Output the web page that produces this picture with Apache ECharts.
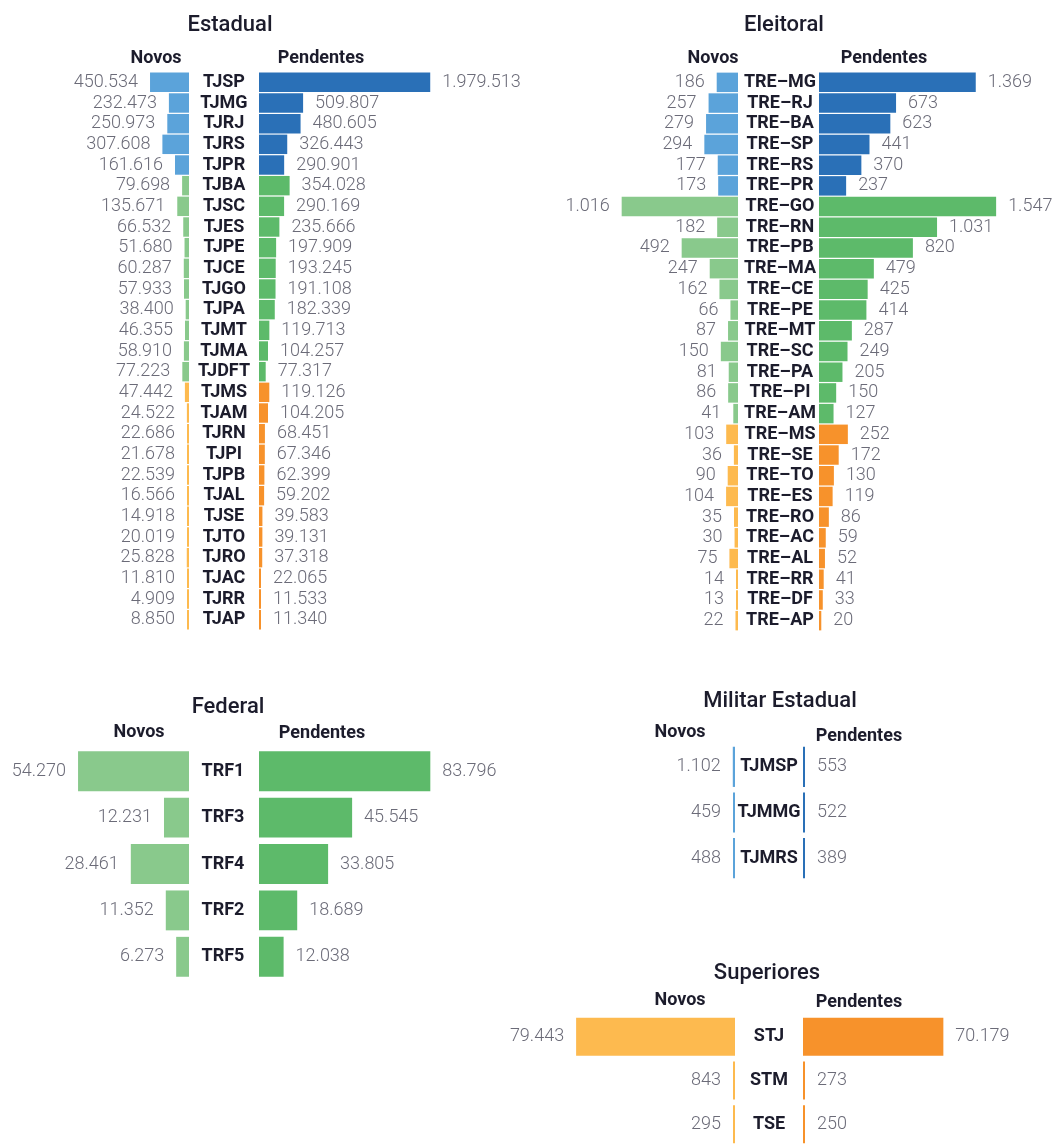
<!DOCTYPE html>
<html>
<head>
<meta charset="utf-8">
<script src="https://cdn.jsdelivr.net/npm/echarts@6/dist/echarts.min.js"></script>
<style>
  html, body { margin: 0; padding: 0; background: #fff; }
  #chart { width: 1054px; height: 1146px; }
</style>
</head>
<body>
<div id="chart"></div>
<script>
// Estadual
const estCategories = ['TJSP', 'TJMG', 'TJRJ', 'TJRS', 'TJPR', 'TJBA', 'TJSC', 'TJES', 'TJPE', 'TJCE', 'TJGO', 'TJPA', 'TJMT', 'TJMA', 'TJDFT', 'TJMS', 'TJAM', 'TJRN', 'TJPI', 'TJPB', 'TJAL', 'TJSE', 'TJTO', 'TJRO', 'TJAC', 'TJRR', 'TJAP']
const estNovos = [450534, 232473, 250973, 307608, 161616, 79698, 135671, 66532, 51680, 60287, 57933, 38400, 46355, 58910, 77223, 47442, 24522, 22686, 21678, 22539, 16566, 14918, 20019, 25828, 11810, 4909, 8850]
const estPendentes = [1979513, 509807, 480605, 326443, 290901, 354028, 290169, 235666, 197909, 193245, 191108, 182339, 119713, 104257, 77317, 119126, 104205, 68451, 67346, 62399, 59202, 39583, 39131, 37318, 22065, 11533, 11340]
const estPorte = ['G', 'G', 'G', 'G', 'G', 'M', 'M', 'M', 'M', 'M', 'M', 'M', 'M', 'M', 'M', 'P', 'P', 'P', 'P', 'P', 'P', 'P', 'P', 'P', 'P', 'P', 'P']

// Eleitoral
const eleCategories = ['TRE–MG', 'TRE–RJ', 'TRE–BA', 'TRE–SP', 'TRE–RS', 'TRE–PR', 'TRE–GO', 'TRE–RN', 'TRE–PB', 'TRE–MA', 'TRE–CE', 'TRE–PE', 'TRE–MT', 'TRE–SC', 'TRE–PA', 'TRE–PI', 'TRE–AM', 'TRE–MS', 'TRE–SE', 'TRE–TO', 'TRE–ES', 'TRE–RO', 'TRE–AC', 'TRE–AL', 'TRE–RR', 'TRE–DF', 'TRE–AP']
const eleNovos = [186, 257, 279, 294, 177, 173, 1016, 182, 492, 247, 162, 66, 87, 150, 81, 86, 41, 103, 36, 90, 104, 35, 30, 75, 14, 13, 22]
const elePendentes = [1369, 673, 623, 441, 370, 237, 1547, 1031, 820, 479, 425, 414, 287, 249, 205, 150, 127, 252, 172, 130, 119, 86, 59, 52, 41, 33, 20]
const elePorte = ['G', 'G', 'G', 'G', 'G', 'G', 'M', 'M', 'M', 'M', 'M', 'M', 'M', 'M', 'M', 'M', 'M', 'P', 'P', 'P', 'P', 'P', 'P', 'P', 'P', 'P', 'P']

// Federal
const fedCategories = ['TRF1', 'TRF3', 'TRF4', 'TRF2', 'TRF5']
const fedNovos = [54270, 12231, 28461, 11352, 6273]
const fedPendentes = [83796, 45545, 33805, 18689, 12038]

// Militar Estadual
const milCategories = ['TJMSP', 'TJMMG', 'TJMRS']
const milNovos = [1102, 459, 488]
const milPendentes = [553, 522, 389]

// Superiores
const supCategories = ['STJ', 'STM', 'TSE']
const supNovos = [79443, 843, 295]
const supPendentes = [70179, 273, 250]

const colors = {
  G: ['#5ba3da', '#2a70b7'],
  M: ['#89c98c', '#5dba6a'],
  P: ['#fdba4f', '#f7922b'],
}
const FONT = 'Roboto, "Noto Sans", sans-serif'
const DARK = '#1c1c2c'

const panels = [
  { title: 'Estadual', cats: estCategories, novos: estNovos, pend: estPendentes, porte: estPorte,
    max: 2000000, top: 72, height: 558, leftX: 16, rightX: 259, width: 173, margin: 35, gap: '6%',
    head: { t: [230, 25], n: [156, 58], p: [321, 58] } },
  { title: 'Eleitoral', cats: eleCategories, novos: eleNovos, pend: elePendentes, porte: elePorte,
    max: 2000, top: 72, height: 559, leftX: 509, rightX: 819, width: 229, margin: 39, gap: '6%',
    head: { t: [784, 25], n: [713, 58], p: [884, 58] } },
  { title: 'Federal', cats: fedCategories, novos: fedNovos, pend: fedPendentes, porte: fedCategories.map(() => 'M'),
    max: 90000, top: 748, height: 232, leftX: 5, rightX: 259, width: 184, margin: 36, gap: '14%',
    head: { t: [228, 707], n: [139, 732], p: [322, 733] } },
  { title: 'Militar Estadual', cats: milCategories, novos: milNovos, pend: milPendentes, porte: milCategories.map(() => 'G'),
    max: 100000, top: 744, height: 137, leftX: 535, rightX: 803, width: 200, margin: 34, gap: '12%',
    head: { t: [780, 701], n: [680, 732], p: [859, 736] } },
  { title: 'Superiores', cats: supCategories, novos: supNovos, pend: supPendentes, porte: supCategories.map(() => 'P'),
    max: 100000, top: 1015, height: 141, leftX: 535, rightX: 803, width: 200, margin: 34, gap: '13%',
    head: { t: [767, 973], n: [680, 1000], p: [859, 1002] } },
]

const fmt = v => String(v).replace(/\B(?=(\d{3})+(?!\d))/g, '.')

const grid = [], xAxis = [], yAxis = [], series = [], graphic = []

function headText(text, pos, size, weight) {
  return {
    type: 'text', x: pos[0], y: pos[1],
    style: { text, fill: DARK, font: `${weight} ${size}px ${FONT}`, align: 'center', verticalAlign: 'middle', textAlign: 'center', textVerticalAlign: 'middle' },
  }
}

panels.forEach((p, i) => {
  const li = i * 2, ri = i * 2 + 1
  grid.push({ left: p.leftX, top: p.top, width: p.width, height: p.height })
  grid.push({ left: p.rightX, top: p.top, width: p.width, height: p.height })

  xAxis.push({ gridIndex: li, type: 'value', min: 0, max: p.max, inverse: true, show: false })
  xAxis.push({ gridIndex: ri, type: 'value', min: 0, max: p.max, show: false })

  yAxis.push({ gridIndex: li, type: 'category', data: p.cats, inverse: true, show: false })
  yAxis.push({
    gridIndex: ri, type: 'category', data: p.cats, inverse: true,
    axisLine: { show: false }, axisTick: { show: false },
    axisLabel: { interval: 0, align: 'center', margin: p.margin, fontFamily: FONT, fontWeight: 'bold', fontSize: 18, color: DARK },
  })

  const labelStyle = { show: true, distance: 12, fontFamily: FONT, fontWeight: 300, fontSize: 18, color: '#6b6b78', formatter: d => fmt(d.value) }

  series.push({
    type: 'bar', xAxisIndex: li, yAxisIndex: li, barCategoryGap: p.gap, barMinHeight: 2,
    data: p.novos.map((v, j) => ({ value: v, itemStyle: { color: colors[p.porte[j]][0] } })),
    label: { ...labelStyle, position: 'left' },
    animation: false,
  })
  series.push({
    type: 'bar', xAxisIndex: ri, yAxisIndex: ri, barCategoryGap: p.gap, barMinHeight: 2,
    data: p.pend.map((v, j) => ({ value: v, itemStyle: { color: colors[p.porte[j]][1] } })),
    label: { ...labelStyle, position: 'right' },
    animation: false,
  })

  graphic.push(headText(p.title, p.head.t, 22, 500))
  graphic.push(headText('Novos', p.head.n, 18, 'bold'))
  graphic.push(headText('Pendentes', p.head.p, 18, 'bold'))
})

const chart = echarts.init(document.getElementById('chart'))
chart.setOption({
  animation: false,
  backgroundColor: '#fff',
  grid, xAxis, yAxis, series, graphic,
})
</script>
</body>
</html>
